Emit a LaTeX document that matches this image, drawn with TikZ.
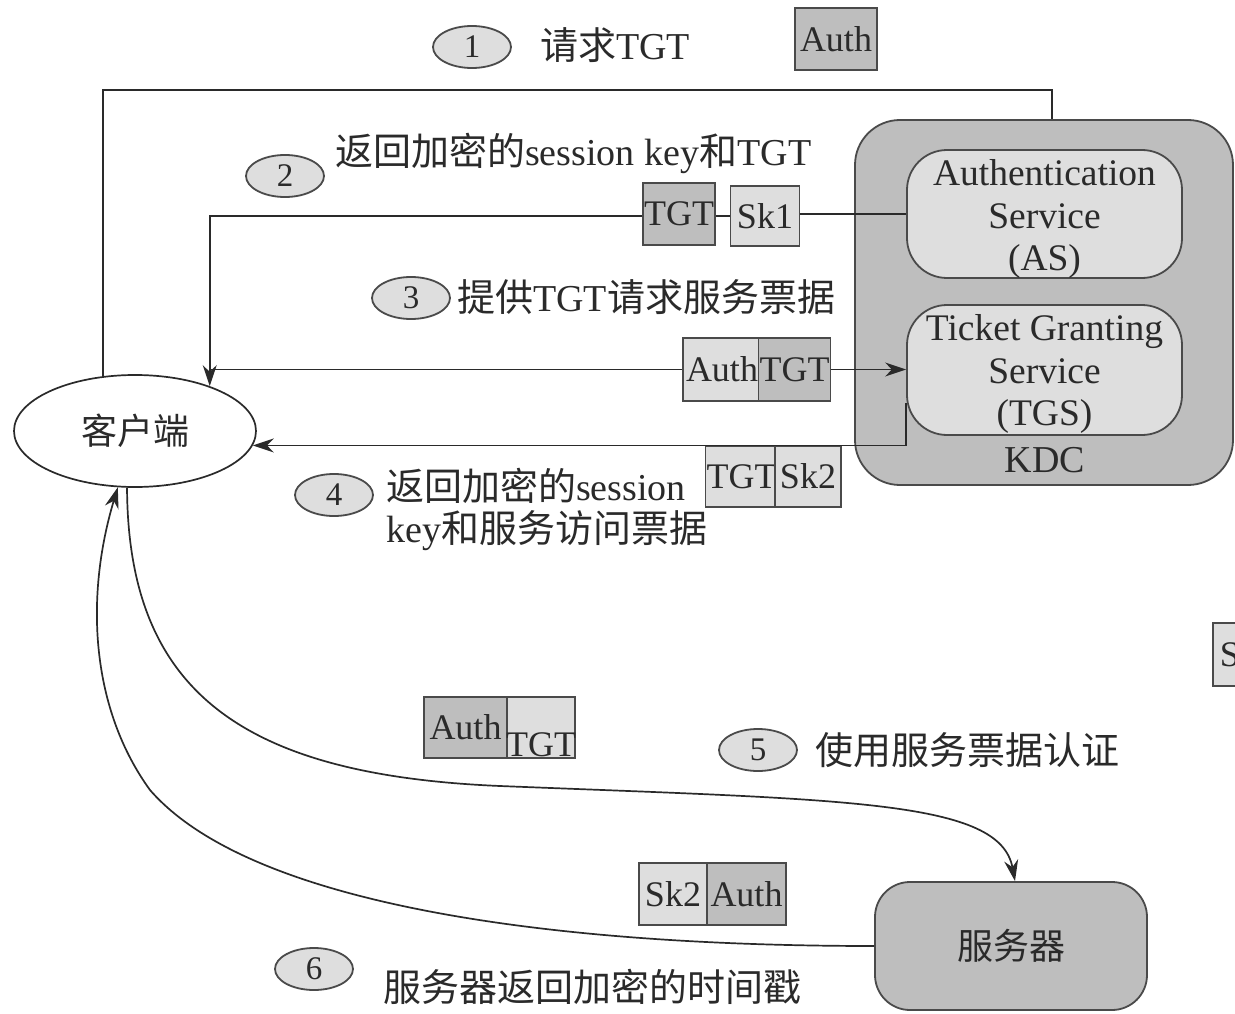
\documentclass[tikz,border=0pt]{standalone}
\usepackage{fontspec}
\setmainfont{Liberation Serif}
\newfontfamily\cjk{Noto Sans CJK SC}
\usetikzlibrary{shapes.geometric,arrows.meta,calc}
\definecolor{lightg}{HTML}{DEDEDE}
\definecolor{darkg}{HTML}{BEBEBE}
\definecolor{edgeg}{HTML}{4A4A4A}
\definecolor{ink}{HTML}{2A2A2A}
\tikzset{
  txt/.style={font=\fontsize{38}{42}\selectfont, text=ink, inner sep=0pt},
  pkt/.style={draw=edgeg, line width=1.8pt, minimum height=61pt, inner sep=1pt, font=\fontsize{36}{40}\selectfont, text=ink},
  numc/.style={ellipse, draw=edgeg, fill=lightg, line width=1.8pt, minimum width=78pt, minimum height=42pt, inner sep=0pt, font=\fontsize{33}{36}\selectfont, text=ink},
  conn/.style={draw=ink, line width=1.7pt},
  arr/.style={conn, -{Stealth[length=21pt,width=14pt]}},
  svc/.style={draw=edgeg, fill=lightg, line width=1.8pt, rounded corners=40pt, minimum width=275pt, inner sep=0pt},
  svctext/.style={align=center, font=\fontsize{37.5}{42.5}\selectfont, text=ink, inner sep=0pt}
}
\begin{document}
\begin{tikzpicture}[x=1pt,y=-1pt]
\useasboundingbox (0,0) rectangle (1235,1014);
\fill[white] (0,0) rectangle (1235,1014);

% KDC and services
\node[draw=edgeg, fill=darkg, line width=1.8pt, rounded corners=45pt, minimum width=378pt, minimum height=365pt] (kdc) at (1044,302.5) {};
\node[svc, minimum height=128pt] (as) at (1044.5,214) {};
\node[svctext] (astext) at (1044.5,219) {Authentication\\Service\\(AS)};
\node[svc, minimum height=130pt] (tgs) at (1044.5,370) {};
\node[svctext] (tgstext) at (1044.5,374) {Ticket Granting\\Service\\(TGS)};
\node[txt] (kdclab) at (1045,460) {KDC};

% client and server
\node[ellipse, draw=ink, fill=white, line width=1.7pt, minimum width=242pt, minimum height=112pt, font=\fontsize{36}{42}\selectfont\cjk, text=ink] (client) at (135,431) {客户端};
\node[draw=edgeg, fill=darkg, line width=1.8pt, rounded corners=35pt, minimum width=272pt, minimum height=128pt, font=\fontsize{36}{42}\selectfont\cjk, text=ink] (server) at (1011,946) {服务器};

% step 1
\node[numc] (n1) at (472,47) {1};
\node[txt, anchor=west] (l1) at (540,45) {{\cjk 请求}TGT};
\node[pkt, fill=darkg, minimum width=82pt, minimum height=62pt] (auth1) at (836,39) {Auth};
\coordinate (t1) at (1052,90);
\draw[conn] (client.120) |- (t1) -- (t1 |- kdc.north);

% step 2
\node[numc] (n2) at (285,176) {2};
\node[txt, anchor=west] (l2) at (335,153) {{\cjk 返回加密的}session key{\cjk 和}TGT};
\node[pkt, fill=darkg, minimum width=68pt, minimum height=62pt] (tgt2) at (679,214) {TGT};
\node[pkt, fill=lightg, minimum width=69pt, minimum height=60pt] (sk1) at (765,216) {Sk1};
\draw[conn] (as.west) -- (as.west -| sk1.east);
\draw[conn] (sk1.west) -- (sk1.west -| tgt2.east);
\draw[arr] (tgt2.west |- sk1.west) -| (client.31);

% step 3
\node[numc] (n3) at (411,298) {3};
\node[txt, anchor=west] (l3) at (457,297) {{\cjk 提供}TGT{\cjk 请求服务票据}};
\node[pkt, fill=lightg, minimum width=78pt, minimum height=63pt] (auth3) at (722,369.5) {Auth};
\node[pkt, fill=darkg, minimum width=67pt, minimum height=63pt] (tgt3) at (794.5,369.5) {TGT};
\coordinate (j3) at (client.31 |- auth3.west);
\draw[conn] (j3) -- (auth3.west);
\draw[arr] (tgt3.east) -- (tgs.west |- tgt3.east);

% step 4
\node[pkt, fill=lightg, minimum width=67pt, anchor=north] (tgt4) at (741.5,445) {TGT};
\node[pkt, fill=lightg, minimum width=66pt, anchor=north] (sk2) at (808,445) {Sk2};
\draw[arr] ([yshift=-33pt]tgs.west) |- (client.-7);
\node[numc] (n4) at (334,495) {4};
\node[txt, anchor=north west, align=left] (l4) at (386,468) {{\cjk 返回加密的}session\\key{\cjk 和服务访问票据}};

% partial box at right edge
\begin{scope}
\clip (0,0) rectangle (1235,1014);
\node[pkt, fill=lightg, minimum width=52pt, minimum height=63pt, anchor=north west] (skp) at (1212,622) {Sk};
\end{scope}

% step 5
\node[pkt, fill=darkg, minimum width=83pt] (auth5) at (465.5,727.5) {Auth};
\node[pkt, fill=lightg, minimum width=68pt, text depth=0pt, text height=22pt] (tgt5) at (541,727.5) {};
\node[font=\fontsize{36}{40}\selectfont, text=ink, inner sep=0pt, anchor=south] (tgt5t) at (541,757) {TGT};
\draw[arr] (client.262) .. controls (128,690) and (240,775) .. (500,786) .. controls (850,800) and (1000,800) .. (server.north -| 1015,0);
\node[numc] (n5) at (758,750) {5};
\node[txt, anchor=west] (l5) at (815,750) {\cjk 使用服务票据认证};

% step 6
\node[pkt, fill=lightg, minimum width=68pt, minimum height=62pt] (sk26) at (673,894) {Sk2};
\node[pkt, fill=darkg, minimum width=79pt, minimum height=62pt] (auth6) at (746.5,894) {Auth};
\draw[arr] (server.west) .. controls (550,946) and (250,905) .. (150,790) .. controls (92,710) and (84,600) .. (client.253);
\node[numc] (n6) at (314,969) {6};
\node[txt, anchor=west] (l6) at (383,987) {\cjk 服务器返回加密的时间戳};
\end{tikzpicture}
\end{document}
